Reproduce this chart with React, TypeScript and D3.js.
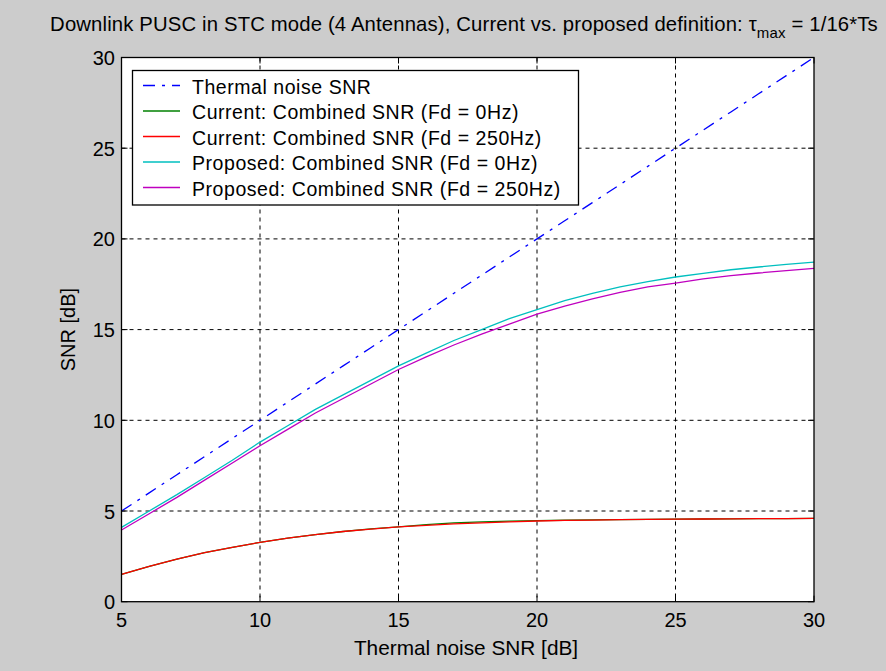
import React from "react";
import * as d3 from "d3";

const xValues = [5,6,7,8,9,10,11,12,13,14,15,16,17,18,19,20,21,22,23,24,25,26,27,28,29,30];
const thermal = [5,6,7,8,9,10,11,12,13,14,15,16,17,18,19,20,21,22,23,24,25,26,27,28,29,30];
const current0 = [1.5,1.95,2.35,2.7,3.0,3.27,3.5,3.7,3.87,4.01,4.13,4.25,4.34,4.4,4.44,4.47,4.49,4.51,4.52,4.54,4.55,4.56,4.57,4.58,4.58,4.59];
const current250 = [1.5,1.95,2.35,2.7,3.0,3.27,3.5,3.7,3.87,4.0,4.12,4.21,4.29,4.35,4.4,4.45,4.48,4.5,4.52,4.54,4.55,4.56,4.57,4.58,4.58,4.59];
const proposed0 = [4.1,5.0,5.9,6.85,7.8,8.8,9.7,10.6,11.4,12.2,13.0,13.7,14.4,15.0,15.6,16.1,16.6,17.0,17.35,17.65,17.9,18.1,18.3,18.45,18.6,18.72];
const proposed250 = [3.95,4.85,5.75,6.7,7.65,8.6,9.5,10.4,11.2,12.0,12.8,13.5,14.15,14.75,15.3,15.85,16.3,16.7,17.05,17.35,17.56,17.8,17.98,18.12,18.25,18.37];
const xTicks = [5,10,15,20,25,30];
const yTicks = [0,5,10,15,20,25,30];
const legendLabels = [
  "Thermal noise SNR",
  "Current: Combined SNR (Fd = 0Hz)",
  "Current: Combined SNR (Fd = 250Hz)",
  "Proposed: Combined SNR (Fd = 0Hz)",
  "Proposed: Combined SNR (Fd = 250Hz)",
];

const W = 886, H = 671;
const L = 121.5, R = 814, T = 57.5, B = 601.7;
const FONT = "'Liberation Sans', Arial, sans-serif";

export default function App() {
  const x = d3.scaleLinear().domain([5, 30]).range([L, R]);
  const y = d3.scaleLinear().domain([0, 30]).range([B, T]);
  const line = (vals: number[]) =>
    d3.line<number>().x((_, i) => x(xValues[i])).y((v) => y(v))(vals) as string;

  const series = [
    { vals: thermal, color: "#0000ff", dash: "12,7,3,7" },
    { vals: current0, color: "#008000", dash: undefined },
    { vals: current250, color: "#ff0000", dash: undefined },
    { vals: proposed0, color: "#00bfbf", dash: undefined },
    { vals: proposed250, color: "#bf00bf", dash: undefined },
  ];

  return (
    <svg width={W} height={H} style={{ display: "block", position: "absolute", left: 0, top: 0 }}>
      <rect x={0} y={0} width={W} height={H} fill="#cccccc" />
      <rect x={L} y={T} width={R - L} height={B - T} fill="#ffffff" />
      {xTicks.slice(1, -1).map((t) => (
        <line key={"gx" + t} x1={x(t)} x2={x(t)} y1={T} y2={B} stroke="#000" strokeWidth={1} strokeDasharray="4,4" />
      ))}
      {yTicks.slice(1, -1).map((t) => (
        <line key={"gy" + t} x1={L} x2={R} y1={y(t)} y2={y(t)} stroke="#000" strokeWidth={1} strokeDasharray="4,4" />
      ))}
      {series.map((s, i) => (
        <path key={"s" + i} d={line(s.vals)} fill="none" stroke={s.color} strokeWidth={1.3} strokeDasharray={s.dash} />
      ))}
      <rect x={L} y={T} width={R - L} height={B - T} fill="none" stroke="#000" strokeWidth={1.3} />
      {xTicks.map((t) => (
        <g key={"xt" + t}>
          <line x1={x(t)} x2={x(t)} y1={B} y2={B - 6} stroke="#000" />
          <line x1={x(t)} x2={x(t)} y1={T} y2={T + 6} stroke="#000" />
          <text x={x(t)} y={B + 25.5} textAnchor="middle" fontFamily={FONT} fontSize={20} fill="#000">{t}</text>
        </g>
      ))}
      {yTicks.map((t) => (
        <g key={"yt" + t}>
          <line x1={L} x2={L + 6} y1={y(t)} y2={y(t)} stroke="#000" />
          <line x1={R} x2={R - 6} y1={y(t)} y2={y(t)} stroke="#000" />
          <text x={L - 6.5} y={y(t) + 7.5} textAnchor="end" fontFamily={FONT} fontSize={20} fill="#000">{t}</text>
        </g>
      ))}
      <text x={466} y={655} textAnchor="middle" fontFamily={FONT} fontSize={20.8} fill="#000">Thermal noise SNR [dB]</text>
      <text transform={`translate(75,${(T + B) / 2}) rotate(-90)`} textAnchor="middle" fontFamily={FONT} fontSize={20} fill="#000">SNR [dB]</text>
      <text x={464} y={31} textAnchor="middle" fontFamily={FONT} fontSize={20.3} letterSpacing={0.15} fill="#000">
        Downlink PUSC in STC mode (4 Antennas), Current vs. proposed definition: τ
        <tspan fontSize={15} dy={7}>max</tspan>
        <tspan dy={-7}> = 1/16*Ts</tspan>
      </text>
      <rect x={132.5} y={70.5} width={446} height={134.5} fill="#fff" stroke="#000" strokeWidth={1.3} />
      {legendLabels.map((lab, i) => {
        const yy = 85.5 + i * 25.5;
        return (
          <g key={"lg" + i}>
            <line x1={143} x2={180} y1={yy} y2={yy} stroke={series[i].color} strokeWidth={1.3} strokeDasharray={series[i].dash} />
            <text x={192} y={yy + 8} fontFamily={FONT} fontSize={19.5} letterSpacing={0.55} fill="#000">{lab}</text>
          </g>
        );
      })}
    </svg>
  );
}
